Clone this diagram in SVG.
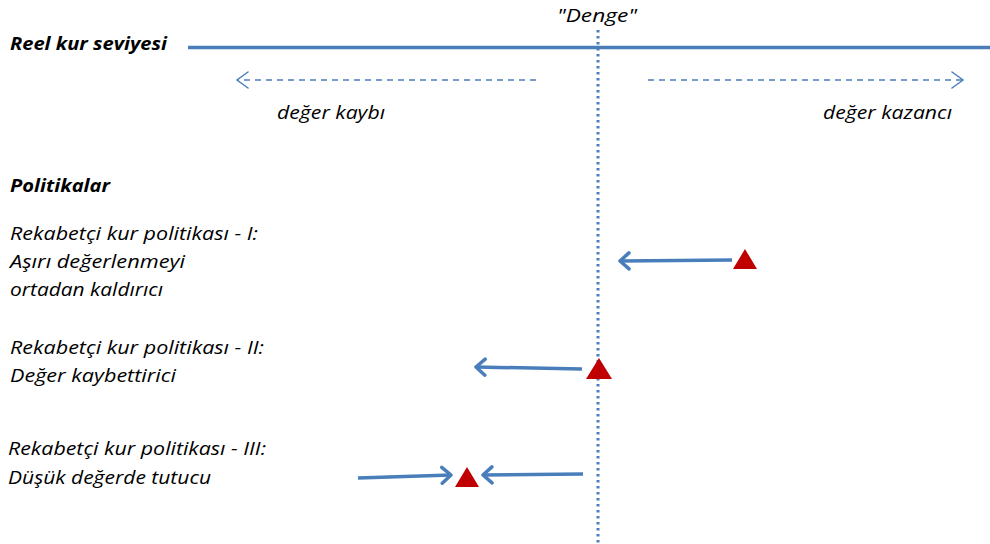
<svg xmlns="http://www.w3.org/2000/svg" width="990" height="544" viewBox="0 0 990 544">
<style>
text{font-family:"Open Sans","Noto Sans",sans-serif;font-style:italic;font-size:18px;fill:#000;lengthAdjust:spacing}
.b{font-weight:bold}
.thick{stroke:#4A7EBB;stroke-width:3.5;fill:none}
.dash{stroke:#4A7EBB;stroke-width:1.5;fill:none;stroke-dasharray:6 5}
.tri{fill:#C00000}
</style>
<defs>
<marker id="open" markerUnits="userSpaceOnUse" viewBox="-12 -10 14 20" refX="0" refY="0" markerWidth="14" markerHeight="20" orient="auto">
<path d="M-9,-8 L0,0 L-9,8" fill="none" stroke="#4A7EBB" stroke-width="3.5" stroke-linecap="round" stroke-linejoin="round"/>
</marker>
<marker id="thin" markerUnits="userSpaceOnUse" viewBox="-12 -10 14 20" refX="0" refY="0" markerWidth="14" markerHeight="20" orient="auto">
<path d="M-11,-8 L0,0 L-11,8" fill="none" stroke="#4A7EBB" stroke-width="1.5" stroke-linecap="round"/>
</marker>
</defs>
<g id="axis">
<line x1="188" y1="47.5" x2="990" y2="47.5" stroke="#4A7EBB" stroke-width="3.5"/>
<text class="b" x="10" y="50" textLength="157" lengthAdjust="spacingAndGlyphs">Reel kur seviyesi</text>
</g>
<g id="denge">
<line x1="598" y1="30" x2="598" y2="544" stroke="#4A7EBB" stroke-width="3" stroke-dasharray="2.5 3.5"/>
<text x="557" y="22" textLength="80" lengthAdjust="spacingAndGlyphs">"Denge"</text>
</g>
<g id="labels">
<text x="277" y="119" textLength="108" lengthAdjust="spacingAndGlyphs">değer kaybı</text>
<text x="823" y="119" textLength="129" lengthAdjust="spacingAndGlyphs">değer kazancı</text>
<text class="b" x="10" y="192" textLength="100" lengthAdjust="spacingAndGlyphs">Politikalar</text>
</g>
<g id="policy1">
<text x="10" y="240" textLength="248" lengthAdjust="spacingAndGlyphs">Rekabetçi kur politikası - I:</text>
<text x="10" y="268" textLength="175" lengthAdjust="spacingAndGlyphs">Aşırı değerlenmeyi</text>
<text x="10" y="296" textLength="153" lengthAdjust="spacingAndGlyphs">ortadan kaldırıcı</text>
<polygon class="tri" points="745,249 757,269 733,269"/>
</g>
<g id="policy2">
<text x="10" y="354" textLength="254" lengthAdjust="spacingAndGlyphs">Rekabetçi kur politikası - II:</text>
<text x="10" y="382" textLength="166" lengthAdjust="spacingAndGlyphs">Değer kaybettirici</text>
<polygon class="tri" points="599,358 612,379 586,379"/>
</g>
<g id="policy3">
<text x="8" y="455" textLength="258" lengthAdjust="spacingAndGlyphs">Rekabetçi kur politikası - III:</text>
<text x="8" y="484" textLength="203" lengthAdjust="spacingAndGlyphs">Düşük değerde tutucu</text>
<polygon class="tri" points="467,467 479,487 455,487"/>
</g>
<g id="connectors">
<line class="dash" x1="536" y1="80" x2="237" y2="80" marker-end="url(#thin)"/>
<line class="dash" x1="648" y1="80" x2="963" y2="80" marker-end="url(#thin)"/>
<line class="thick" x1="732" y1="260" x2="620" y2="261" marker-end="url(#open)"/>
<line class="thick" x1="582" y1="369" x2="476" y2="367" marker-end="url(#open)"/>
<line class="thick" x1="358" y1="478" x2="451" y2="475" marker-end="url(#open)"/>
<line class="thick" x1="583" y1="474" x2="483" y2="475" marker-end="url(#open)"/>
</g>
</svg>
